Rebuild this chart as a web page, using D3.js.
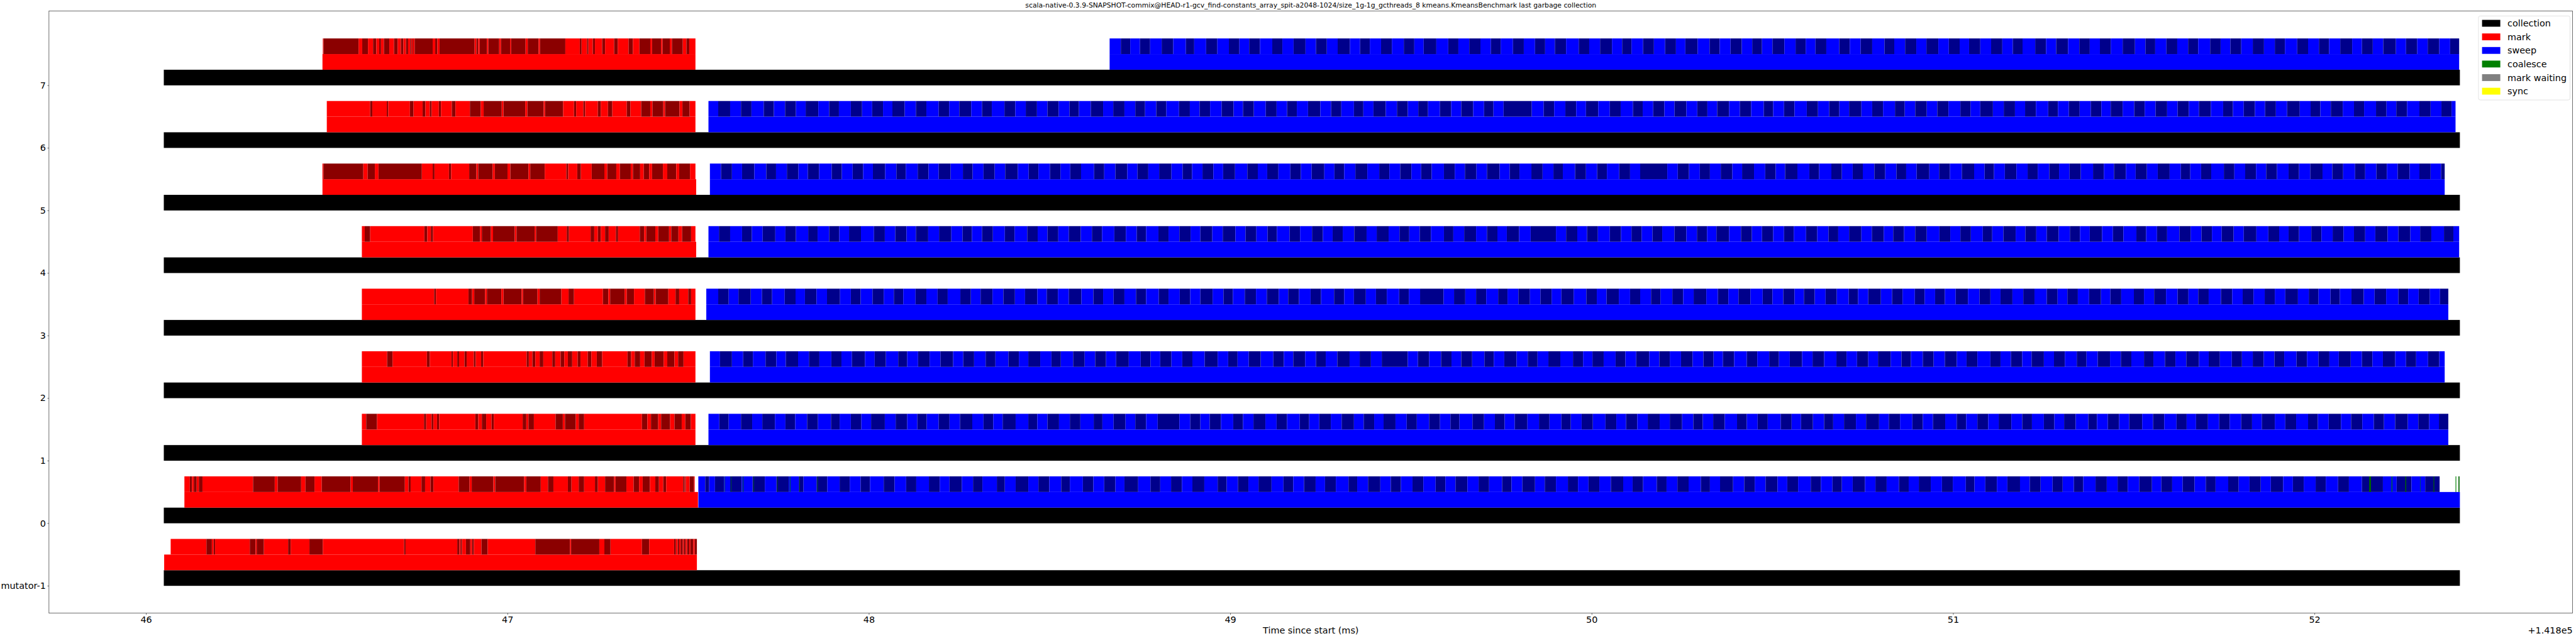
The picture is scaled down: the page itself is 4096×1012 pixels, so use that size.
<!DOCTYPE html>
<html><head><meta charset="utf-8">
<script src="https://cdn.jsdelivr.net/npm/d3@7"></script>
<style>body{margin:0;background:#fff}text{font-family:"DejaVu Sans",sans-serif}</style>
</head><body>
<svg id="chart" width="4096" height="1012" viewBox="0 0 7902 1953"></svg>
<script>
// ---------------- data ----------------
const OFFSET = 141800;
const titleText = "scala-native-0.3.9-SNAPSHOT-commix@HEAD-r1-gcv_find-constants_array_spit-a2048-1024/size_1g-1g_gcthreads_8 kmeans.KmeansBenchmark last garbage collection";
const threadLabels = ["mutator-1","0","1","2","3","4","5","6","7"];
const threadY = [-1,0,1,2,3,4,5,6,7];
const xTicks = [141846,141847,141848,141849,141850,141851,141852];

const collectionStart = [141846.049,141846.049,141846.049,141846.049,141846.049,141846.049,141846.049,141846.049,141846.049];
const collectionEnd   = [141852.402,141852.402,141852.402,141852.402,141852.402,141852.402,141852.402,141852.402,141852.402];
const markStart  = [141846.050,141846.106,141846.597,141846.597,141846.597,141846.597,141846.488,141846.500,141846.488];
const markEnd    = [141847.524,141847.527,141847.520,141847.520,141847.520,141847.522,141847.522,141847.520,141847.520];
const sweepStart = [null,141847.528,141847.556,141847.560,141847.550,141847.556,141847.560,141847.556,141848.666];
const sweepEnd   = [null,141852.402,141852.370,141852.360,141852.370,141852.400,141852.360,141852.390,141852.400];
const markBatchStart = [141846.068,141846.106,141846.597,141846.597,141846.597,141846.597,141846.488,141846.500,141846.489];

// mark batch durations (microseconds), alternating red / dark red
const markMut = [99,15,5,4,96,16,3,20,67,7,52,37,225,4,143,6,3,4,11,12,5,5,21,17,132,96,3,78,14,17,87,20,69,5,5,4,4,6,3,5,4,6,3,8,4,6];
const mark0 = [15,6,5,8,6,10,140,60,8,65,12,25,20,80,6,70,4,70,10,6,30,10,15,8,70,30,6,60,5,80,6,40,20,15,40,10,20,15,30,8,20,25,4,30,20,15,10,20,15,10,12,8,47,4,1,2,11,12,2];
const mark1 = [12,30,130,6,15,5,10,6,100,8,10,12,15,6,80,10,6,15,60,20,6,30,8,15,160,15,10,20,8,25,12,20,10,15,13];
const mark2 = [70,15,95,8,60,4,12,5,15,6,20,5,15,6,120,6,10,8,12,10,25,8,15,10,10,12,15,8,20,10,15,15,70,10,10,15,12,20,8,25,10,20,10,15,33];
const mark3 = [200,5,90,10,6,30,5,40,6,50,4,40,6,60,20,15,80,15,5,40,6,20,30,25,5,35,20,10,25,8,12];
const mark4 = [8,15,150,8,10,6,110,20,5,25,6,60,5,50,4,60,25,6,60,10,10,8,12,10,20,6,60,12,6,25,8,30,6,20,10,25,12];
const mark5 = [3,110,12,20,10,120,30,5,40,6,50,20,5,40,6,35,8,50,5,40,60,5,25,10,30,35,8,25,10,30,6,20,10,15,8,30,12,25,8,30,15];
const mark6 = [120,6,40,4,60,10,25,8,12,5,20,6,30,10,40,30,8,50,5,60,6,45,4,50,30,6,20,5,35,8,20,12,40,10,30,25,6,30,5,40,8,20,16];
const mark7 = [2,97,10,16,14,9,8,5,8,15,13,10,9,7,7,6,6,3,3,2,4,50,7,6,6,97,5,5,4,20,4,30,5,25,3,40,6,30,4,70,40,5,15,4,12,6,20,8,25,10,30,12,18,30,5,25,4,20,6,30,10,8,17];

// sweep batch durations (microseconds), alternating blue / dark blue
const sweep0 = [19,11,16,25,17,32,30,34,32,34, 28,13,36,30,34,28,30,26,38,30, 32,28,35,30,27,34,31,26,40,22, 30,35,28,30,33,24,36,29,30,31, 25,38,34,27,30,30,29,33,37,25, 31,29,28,36,33,27,30,32,26,30, 35,24,30,34,29,28,32,30,34,27, 28,33,31,29,36,26,30,35,27,31, 33,28,29,30,32,34,26,29,38,27, 30,31,34,25,28,36,31,29,30,33, 27,30,35,28,32,26,30,34,29,31, 34,27,28,33,31,30,36,24,30,32, 29,35,27,30,33,28,31,26,34,31, 30,28,32,35,26,30,29,33,31,27, 35,29,30,31,28,34,27,30,33,28, 34,30,36,58,38,41,38,40];
const sweep1 = [30,26,34,31,28,35,29,27,33,30, 36,24,31,29,27,38,30,32,28,26, 33,30,29,34,31,27,26,36,35,25, 28,32,30,29,37,24,31,33,27,30, 32,60,30,28,26,31,34,27,29,33, 31,29,35,26,28,32,30,34,27,29, 26,33,31,28,34,30,29,25,36,32, 30,27,28,35,32,29,33,26,30,31, 35,30,27,31,29,33,28,34,31,26, 29,32,34,27,30,28,36,30,26,33, 31,25,30,33,28,36,27,31,34,29, 28,34,32,26,31,30,29,35,30,27, 33,29,27,32,35,24,30,31,28,36, 30,31,34,28,26,33,31,29,32,30, 27,36,29,30,33,27,30,34,28,31, 32,28,31,35,29,30,27,33,30,36];
const sweep2 = [28,33,31,27,35,30,26,34,30,29, 33,28,29,36,27,31,34,25,30,32, 30,35,28,30,32,27,36,29,26,33, 31,26,34,32,29,30,28,35,33,27, 27,31,30,28,34,36,29,26,31,33, 35,29,26,33,30,27,32,34,28,31, 30,72,28,31,33,29,27,30,34,26, 29,34,31,27,30,33,35,28,26,31, 33,27,30,36,28,29,31,32,30,28, 26,31,35,29,33,27,30,34,29,32, 34,28,29,31,27,35,30,26,33,30, 31,33,27,30,36,28,29,31,26,34, 28,30,33,27,31,34,30,29,35,26, 32,29,30,35,27,31,33,28,30,30, 30,27,34,29,32,30,26,33,31,29, 29,34,30,28,33,31,27,30,36,29];
const sweep3 = [33,29,27,34,31,28,35,30,26,32, 29,36,30,27,33,31,28,26,34,30, 31,28,35,29,27,33,30,32,28,34, 26,31,30,35,33,27,29,30,32,28, 35,27,31,29,28,34,30,26,33,31, 30,33,26,30,32,29,36,28,27,33, 28,30,34,27,31,65,29,31,30,28, 33,26,30,32,29,31,27,34,35,29, 27,34,31,28,30,26,33,30,29,35, 32,29,28,33,34,27,30,31,26,30, 30,31,33,26,28,35,31,29,34,27, 29,27,30,34,32,30,28,33,30,31, 34,30,27,29,31,33,26,30,35,28, 28,33,32,30,27,29,34,31,29,30, 31,28,29,35,30,27,33,26,32,34, 30,32,34,27,29,31,28,33,30,29];
const sweep4 = [29,31,33,27,30,35,28,29,34,26, 32,28,27,33,36,30,29,31,26,34, 30,34,31,26,28,30,33,27,35,29, 27,30,29,33,31,28,34,32,30,26, 34,28,30,31,27,33,29,35,28,30, 31,26,35,29,33,30,27,28,32,34, 28,33,30,27,29,31,36,26,30,33, 30,29,26,34,32,70,28,31,27,30, 33,31,29,28,30,27,34,33,29,28, 26,35,33,30,28,31,30,27,34,31, 31,27,30,34,29,33,26,30,31,32, 35,30,28,29,33,26,31,34,27,30, 29,33,31,28,27,34,30,29,36,27, 30,28,34,31,30,29,27,33,28,35, 33,30,26,29,34,28,31,30,29,31, 28,34,30,33,27,31,35,26,30,32];
const sweep5 = [31,30,28,34,33,27,30,32,26,31, 35,28,30,29,27,34,31,26,33,30, 28,33,34,27,30,31,29,35,30,27, 32,29,27,30,36,28,31,33,28,30, 30,34,31,26,29,30,27,33,34,29, 26,31,33,29,30,35,28,27,31,33, 33,28,30,31,27,29,34,30,28,32, 29,35,28,27,33,31,30,26,34,30, 31,27,34,30,28,75,29,31,30,28, 30,32,27,33,31,29,26,34,33,27, 34,29,30,28,32,30,31,27,29,35, 27,30,33,34,29,26,30,32,31,28, 32,27,29,31,34,30,28,33,27,31, 30,33,31,26,30,28,35,29,30,30, 28,30,32,29,31,34,27,30,33,28, 31,29,30,33,27,31,29,28,34,30];
const sweep6 = [27,33,30,29,34,28,31,30,27,35, 30,27,33,31,28,30,26,34,31,29, 34,29,28,33,30,27,35,30,29,31, 29,31,30,26,33,34,28,31,30,27, 31,28,35,30,27,29,32,33,26,30, 33,30,29,27,31,34,30,28,35,26, 28,34,31,30,29,27,33,31,28,33, 30,26,28,78,33,29,31,30,27,34, 32,30,34,27,29,31,28,33,30,28, 27,33,30,31,35,26,30,29,34,31, 31,28,27,34,30,30,33,27,29,32, 29,31,33,28,27,35,30,31,28,30, 34,27,30,30,31,29,26,33,32,29, 30,32,29,31,28,33,34,27,30,31, 28,30,31,35,30,27,29,33,31,28, 33,29,27,30,34,31,30,28,29,34];
const sweep7 = [31,26,27,28,32,32,35,23,33,31, 32,29,27,30,34,28,31,33,29,30, 30,34,28,27,31,30,33,29,26,35, 33,28,30,31,29,27,34,30,31,28, 27,31,35,29,30,33,28,26,32,30, 31,30,26,34,33,28,30,31,29,27, 29,33,31,28,27,30,36,29,30,32, 34,27,30,31,28,33,29,30,26,31, 30,31,29,27,35,30,28,33,31,29, 28,30,33,34,29,27,31,30,30,28, 33,29,27,30,32,31,30,28,34,30, 30,28,31,33,27,30,29,35,28,31, 29,32,30,27,31,34,28,30,33,29];

// coalesce events seen on thread 0: [start (ms), duration (us)]
const coalesce0 = [[141847.6005,1],[141847.6186,1],[141847.651,1.5],[141847.681,1],[141847.7466,1],[141847.781,1.5],[141847.808,1],[141847.8575,1],[141852.151,5],[141852.213,2],[141852.251,2.5],[141852.292,1],[141852.329,2],[141852.390,2],[141852.398,3]];

const legendLabels = ["collection","mark","sweep","coalesce","mark waiting","sync"];
const legendColors = ["#000000","#ff0000","#0000ff","#008000","#808080","#ffff00"];

const markBatches = [markMut,mark0,mark1,mark2,mark3,mark4,mark5,mark6,mark7];
const sweepBatches = [null,sweep0,sweep1,sweep2,sweep3,sweep4,sweep5,sweep6,sweep7];

// ---------------- drawing ----------------
const svg = d3.select("#chart");
const FS = 27.78;
const TITLE_FS = 20.83;
const L = 149, R = 7893, T = 34, B = 1883;
const x = d3.scaleLinear().domain([141845.7313, 141852.714]).range([L, R]);
const y = d3.scaleLinear().domain([-1.4375, 8.1875]).range([B, T]);

const plot = svg.append("g");
function bar(x0, x1, ylo, color) {
  plot.append("rect")
    .attr("x", x(x0)).attr("width", Math.max(0, x(x1) - x(x0)))
    .attr("y", y(ylo + 0.25)).attr("height", y(ylo) - y(ylo + 0.25))
    .attr("fill", color);
}
function batches(start, end, durs, yv, light, dark) {
  let t = start;
  for (let k = 0; k < durs.length && t < end; k++) {
    const e = Math.min(end, t + durs[k] / 1000);
    bar(t, e, yv, k % 2 ? dark : light);
    t += durs[k] / 1000;
  }
}

threadY.forEach((yv, i) => {
  bar(collectionStart[i], collectionEnd[i], yv, "#000000");
  bar(markStart[i], markEnd[i], yv + 0.25, "#ff0000");
  if (sweepStart[i] !== null) bar(sweepStart[i], sweepEnd[i], yv + 0.25, "#0000ff");
  batches(markBatchStart[i], markEnd[i], markBatches[i], yv + 0.5, "#ff0000", "#8b0000");
  if (sweepBatches[i]) batches(sweepStart[i], sweepEnd[i], sweepBatches[i], yv + 0.5, "#0000ff", "#00008b");
});
coalesce0.forEach((c, k) => bar(c[0], c[0] + c[1] / 1000, 0.5, k % 2 ? "#008000" : "#006400"));

// axes
const xAxis = d3.axisBottom(x).tickValues(xTicks).tickFormat(d => String(Math.round(d - OFFSET))).tickSize(4.9).tickPadding(4.9);
const gx = svg.append("g").attr("transform", `translate(0,${B})`).call(xAxis);
const yAxis = d3.axisLeft(y).tickValues(threadY).tickFormat((d, i) => threadLabels[i]).tickSize(4.9).tickPadding(4.9);
const gy = svg.append("g").attr("transform", `translate(${L},0)`).call(yAxis);
[gx, gy].forEach(g => {
  g.select(".domain").remove();
  g.selectAll("line").attr("stroke", "#000").attr("stroke-width", 1.1);
  g.selectAll("text").attr("font-size", FS).attr("font-family", "DejaVu Sans").attr("fill", "#000");
});

svg.append("rect").attr("x", L).attr("y", T).attr("width", R - L).attr("height", B - T)
  .attr("fill", "none").attr("stroke", "#000").attr("stroke-width", 1.1);

svg.append("text").attr("x", (L + R) / 2).attr("y", 24).attr("text-anchor", "middle")
  .attr("font-size", TITLE_FS).text(titleText);
svg.append("text").attr("x", (L + R) / 2).attr("y", 1946).attr("text-anchor", "middle")
  .attr("font-size", FS).text("Time since start (ms)");
svg.append("text").attr("x", R).attr("y", 1946).attr("text-anchor", "end")
  .attr("font-size", FS).text("+1.418e5");

// legend
const lg = svg.append("g");
lg.append("rect").attr("x", 7604).attr("y", 49).attr("width", 281).attr("height", 258)
  .attr("rx", 5.5).attr("fill", "#fff").attr("fill-opacity", 0.8).attr("stroke", "#cccccc").attr("stroke-width", 1.1);
legendLabels.forEach((lab, i) => {
  const yy = 61 + i * 41.7;
  lg.append("rect").attr("x", 7615).attr("y", yy).attr("width", 56).attr("height", 21).attr("fill", legendColors[i]);
  lg.append("text").attr("x", 7693).attr("y", yy + 20.5).attr("font-size", FS).text(lab);
});
</script>
</body></html>
